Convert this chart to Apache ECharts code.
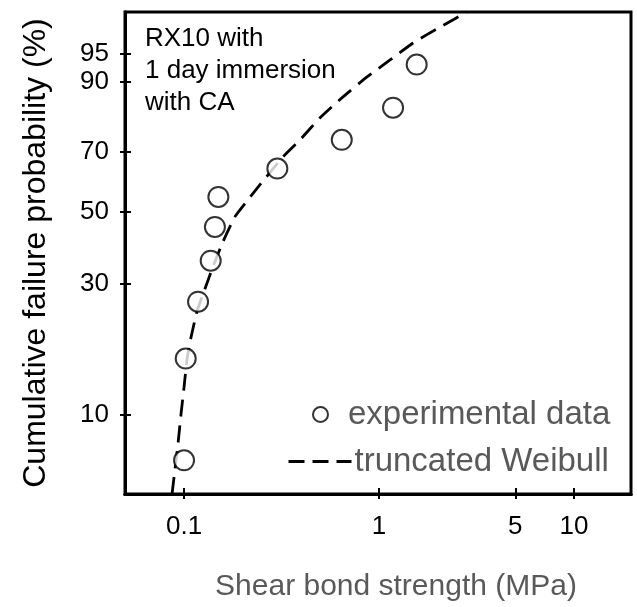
<!DOCTYPE html>
<html>
<head>
<meta charset="utf-8">
<script src="https://cdn.jsdelivr.net/npm/echarts@6/dist/echarts.min.js"></script>
<style>
  html, body { margin: 0; padding: 0; background: #fff; }
  #chart { width: 637px; height: 607px; }
</style>
</head>
<body>
<div id="chart"></div>
<script>
// measured points (strength in MPa, failure probability in %)
var strength = [0.100, 0.102, 0.118, 0.137, 0.144, 0.150, 0.301, 0.644, 1.18, 1.56];
var failProb = [6.7, 16.3, 26.0, 35.6, 45.2, 54.8, 64.4, 74.0, 83.7, 93.3];

// truncated Weibull curve
var fitStrength = [0.0868, 0.0899, 0.0931, 0.0965, 0.1000, 0.1036, 0.1086, 0.1166, 0.1266, 0.1409,
                   0.1585, 0.1826, 0.2130, 0.2453, 0.3220, 0.3935, 0.4982, 0.6535, 0.8679, 1.139,
                   1.494, 2.055, 2.827];
var fitProb = [4.95, 6.20, 7.75, 10.09, 12.75, 16.20, 19.47, 24.07, 28.19, 34.10,
               40.87, 48.41, 53.9, 58.91, 68.39, 74.01, 80.81, 86.53, 91.03, 94.05,
               96.32, 97.82, 98.77];

// axis ticks
var xTicks = [0.1, 1, 5, 10];
var xTickLabels = ['0.1', '1', '5', '10'];
var yTicks = [10, 30, 50, 70, 90, 95];
var yTickLabels = ['10', '30', '50', '70', '90', '95'];

// axis limits
var xLimits = [0.0498, 19.6];
var yLimits = [4.95, 98.77];

// weibull paper: x -> log10, y -> ln(-ln(1-F))
function tx(v) { return Math.log10(v); }
function ty(p) { return Math.log(-Math.log(1 - p / 100)); }

function nearestLabel(v, vals, labels, f) {
	var best = 0;
	for (var i = 1; i < vals.length; i++) {
		if (Math.abs(f(vals[i]) - v) < Math.abs(f(vals[best]) - v)) best = i;
	}
	return labels[best];
}

var chart = echarts.init(document.getElementById('chart'));

var font = 'Liberation Sans, Arial, sans-serif';

var xBase = {
	type: 'value',
	position: 'bottom',
	min: tx(xLimits[0]),
	max: tx(xLimits[1]),
	splitLine: { show: false },
	axisLine: { show: true, onZero: false, lineStyle: { color: '#000', width: 3 } }
};
var yBase = {
	type: 'value',
	position: 'left',
	min: ty(yLimits[0]),
	max: ty(yLimits[1]),
	splitLine: { show: false },
	axisLine: { show: true, onZero: false, lineStyle: { color: '#000', width: 3 } }
};

var option = {
	animation: false,
	backgroundColor: '#fff',
	title: {
		text: 'RX10 with\n1 day immersion\nwith CA',
		left: 140,
		top: 18,
		textStyle: { fontFamily: font, fontSize: 26, lineHeight: 32, fontWeight: 'normal', color: '#000' }
	},
	grid: {
		left: 125, top: 12, right: 6, bottom: 112,
		show: true, borderColor: '#000', borderWidth: 3
	},
	legend: [{
		data: ['experimental data'],
		left: 307, top: 393,
		itemWidth: 15, itemHeight: 15,
		icon: 'circle',
		itemStyle: { color: '#fff', borderColor: '#000', borderWidth: 2 },
		textStyle: { fontFamily: font, fontSize: 33, color: '#595959', padding: [0, 0, 0, 15] }
	}, {
		data: ['truncated Weibull'],
		left: 282, top: 440,
		itemWidth: 63, itemHeight: 14,
		itemStyle: { opacity: 0 },
		lineStyle: { color: '#000', width: 3, type: [16, 8] },
		textStyle: { fontFamily: font, fontSize: 33, color: '#595959', padding: [0, 0, 0, -2] }
	}],
	xAxis: [
		Object.assign({}, xBase, {
			name: 'Shear bond strength (MPa)',
			nameLocation: 'middle',
			nameGap: 78,
			nameTextStyle: { fontFamily: font, fontSize: 30, color: '#595959', padding: [0, 0, 0, 36] },
			axisTick: { show: true, inside: true, length: 6, customValues: xTicks.map(tx), lineStyle: { color: '#000', width: 2 } },
			axisLabel: {
				customValues: xTicks.map(tx), margin: 20,
				fontFamily: font, fontSize: 26, color: '#000',
				formatter: function (v) { return nearestLabel(v, xTicks, xTickLabels, tx); }
			}
		}),
		Object.assign({}, xBase, {
			axisTick: { show: true, inside: false, length: 5, customValues: xTicks.map(tx), lineStyle: { color: '#000', width: 2 } },
			axisLabel: { show: false }
		})
	],
	yAxis: [
		Object.assign({}, yBase, {
			name: 'Cumulative failure probability (%)',
			nameLocation: 'middle',
			nameGap: 73,
			nameTextStyle: { fontFamily: font, fontSize: 32, color: '#000' },
			axisTick: { show: true, inside: true, length: 6, customValues: yTicks.map(ty), lineStyle: { color: '#000', width: 2 } },
			axisLabel: {
				customValues: yTicks.map(ty), margin: 16,
				fontFamily: font, fontSize: 26, color: '#000',
				formatter: function (v) { return nearestLabel(v, yTicks, yTickLabels, ty); }
			}
		}),
		Object.assign({}, yBase, {
			axisTick: { show: true, inside: false, length: 5, customValues: yTicks.map(ty), lineStyle: { color: '#000', width: 2 } },
			axisLabel: { show: false }
		})
	],
	series: [{
		name: 'truncated Weibull',
		type: 'line',
		smooth: 0.15,
		symbol: 'none',
		showSymbol: false,
		clip: true,
		z: 2,
		lineStyle: { color: '#000', width: 2.8, type: [17, 9] },
		data: fitStrength.map(function (s, i) { return [tx(s), ty(fitProb[i])]; })
	}, {
		name: 'experimental data',
		type: 'scatter',
		symbol: 'circle',
		symbolSize: 20,
		z: 3,
		itemStyle: { color: '#fff', borderColor: '#000', borderWidth: 2 },
		data: strength.map(function (s, i) { return [tx(s), ty(failProb[i])]; })
	}]
};
chart.setOption(option);
</script>
</body>
</html>
